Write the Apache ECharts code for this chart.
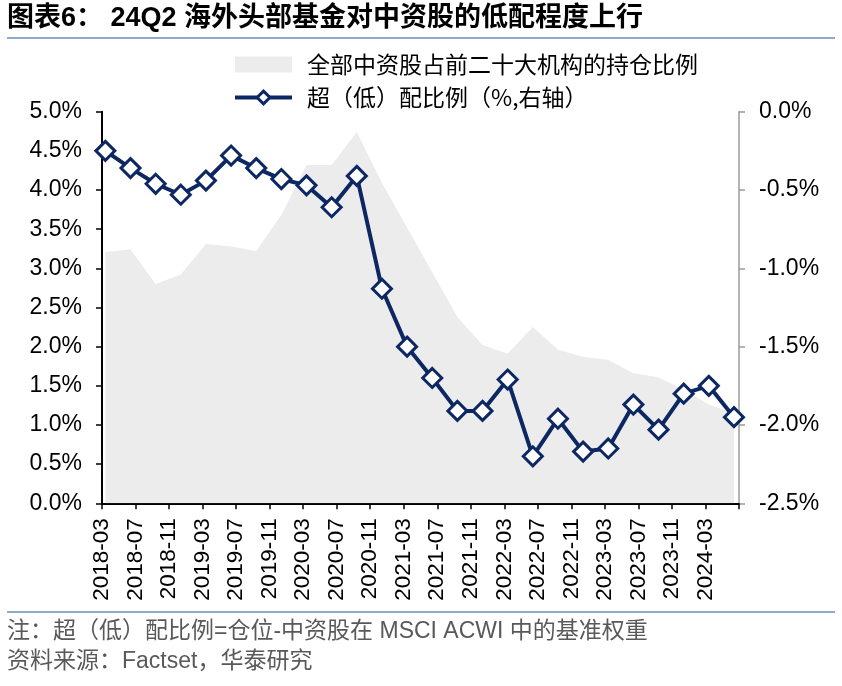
<!DOCTYPE html>
<html>
<head>
<meta charset="utf-8">
<script src="https://cdn.jsdelivr.net/npm/echarts@6/dist/echarts.min.js"></script>
<style>
html,body{margin:0;padding:0;background:#fff;}
#c{width:842px;height:686px;}
</style>
</head>
<body>
<div id="c"></div>
<script>
// quarterly observation months
const dates = ['2018-03','2018-06','2018-09','2018-12','2019-03','2019-06','2019-09','2019-12',
  '2020-03','2020-06','2020-09','2020-12','2021-03','2021-06','2021-09','2021-12',
  '2022-03','2022-06','2022-09','2022-12','2023-03','2023-06','2023-09','2023-12',
  '2024-03','2024-06'];
// 全部中资股占前二十大机构的持仓比例 (%, left axis)
const holdingShare = [3.21,3.24,2.80,2.92,3.31,3.28,3.22,3.68,4.32,4.32,4.74,4.09,3.52,2.95,2.38,2.02,
  1.91,2.25,1.96,1.87,1.83,1.66,1.61,1.45,1.26,1.15];
// 超（低）配比例 (%, right axis)
const overUnder = [-0.25,-0.36,-0.46,-0.53,-0.44,-0.28,-0.36,-0.43,-0.47,-0.61,-0.41,-1.13,-1.50,-1.70,
  -1.91,-1.91,-1.71,-2.20,-1.96,-2.17,-2.15,-1.87,-2.03,-1.80,-1.75,-1.95];
// axis month range: 2018-03 .. 2024-07, labels every 4 months
const axisStart = '2018-03';
const axisEnd = '2024-07';
const labelStepMonths = 4;

const seriesNames = ['全部中资股占前二十大机构的持仓比例', '超（低）配比例（%,右轴）'];
const titleText = '图表6： 24Q2 海外头部基金对中资股的低配程度上行';
const noteText = '注：超（低）配比例=仓位-中资股在 MSCI ACWI 中的基准权重';
const sourceText = '资料来源：Factset，华泰研究';

function monthIndex(s){
  const [y,m] = s.split('-').map(Number);
  const [y0,m0] = axisStart.split('-').map(Number);
  return (y-y0)*12 + (m-m0);
}
function indexToLabel(i){
  const [y0,m0] = axisStart.split('-').map(Number);
  const t = y0*12 + (m0-1) + i;
  const y = Math.floor(t/12), m = t%12 + 1;
  return y + '-' + (m<10?'0':'') + m;
}
const xMax = monthIndex(axisEnd);
const offset = 0.4;
const areaData = dates.map((d,i)=>[monthIndex(d)+offset, holdingShare[i]]);
const lineData = dates.map((d,i)=>[monthIndex(d)+offset, overUnder[i]]);

const FONT = '"Liberation Sans", Arial, "Noto Sans CJK SC", sans-serif';
const NAVY = '#0d2762';

const chart = echarts.init(document.getElementById('c'), null, {renderer:'canvas'});
chart.setOption({
  animation:false,
  backgroundColor:'#fff',
  textStyle:{fontFamily:FONT},
  grid:{left:102, right:103, top:111.7, height:391.6, containLabel:false},
  legend:{
    orient:'vertical', left:233, top:53, padding:0, itemWidth:57, itemHeight:16, itemGap:10,
    textStyle:{fontSize:23, color:'#000', fontFamily:'"Noto Sans CJK SC", sans-serif', padding:[0,0,0,10]},
    data:[
      {name:seriesNames[0], icon:'rect', itemStyle:{color:'#ececec'}},
      {name:seriesNames[1], lineStyle:{width:4, color:NAVY}, itemStyle:{color:'#fff', borderColor:NAVY, borderWidth:3}}
    ]
  },
  xAxis:{
    type:'value', min:0, max:xMax, interval:labelStepMonths,
    axisLine:{show:true, lineStyle:{color:'#000', width:2}},
    axisTick:{show:true, length:6, lineStyle:{color:'#000', width:1.5}},
    splitLine:{show:false},
    axisLabel:{rotate:90, fontSize:22.5, color:'#000', margin:15, fontFamily:FONT,
      formatter:function(v){ return v>=xMax ? '' : indexToLabel(Math.round(v)); }}
  },
  yAxis:[
    {type:'value', min:0, max:5, interval:0.5, position:'left',
      axisLine:{show:true, lineStyle:{color:'#000', width:2}},
      axisTick:{show:true, length:6, lineStyle:{color:'#000', width:1.5}},
      splitLine:{show:false},
      axisLabel:{fontSize:23, color:'#000', margin:20, fontFamily:FONT,
        formatter:v=>v.toFixed(1)+'%'}},
    {type:'value', min:-2.5, max:0, interval:0.5, position:'right',
      axisLine:{show:true, lineStyle:{color:'#9a9a9a', width:1.5}},
      axisTick:{show:true, length:6, lineStyle:{color:'#9a9a9a', width:1.5}},
      splitLine:{show:false},
      axisLabel:{fontSize:23, color:'#000', margin:20, fontFamily:FONT,
        formatter:v=>(Math.abs(v)<1e-9?0:v).toFixed(1)+'%'}}
  ],
  series:[
    {name:seriesNames[0], type:'line', yAxisIndex:0, data:areaData, symbol:'none',
      lineStyle:{width:0, color:'#ececec'}, itemStyle:{color:'#ececec'},
      areaStyle:{color:'#ececec', opacity:1}, z:1},
    {name:seriesNames[1], type:'line', yAxisIndex:1, data:lineData, symbol:'diamond', symbolSize:19,
      lineStyle:{width:4, color:NAVY}, itemStyle:{color:'#fff', borderColor:NAVY, borderWidth:3}, z:3}
  ],
  graphic:[
    {type:'text', left:7, top:5, style:{text:titleText, fontSize:27, fontWeight:'bold', fill:'#000',
      fontFamily:'"Liberation Sans", Arial, "Noto Sans CJK SC", sans-serif'}},
    {type:'line', shape:{x1:7, y1:38, x2:835, y2:38}, style:{stroke:'#6d8dbd', lineWidth:1.5}},
    {type:'line', shape:{x1:7, y1:612, x2:835, y2:612}, style:{stroke:'#6d8dbd', lineWidth:1.5}},
    {type:'text', left:7, top:620, style:{text:noteText, fontSize:23, fill:'#595959',
      fontFamily:'"Liberation Sans", Arial, "Noto Sans CJK SC", sans-serif'}},
    {type:'text', left:7, top:650, style:{text:sourceText, fontSize:23, fill:'#595959',
      fontFamily:'"Liberation Sans", Arial, "Noto Sans CJK SC", sans-serif'}}
  ]
});
</script>
</body>
</html>
